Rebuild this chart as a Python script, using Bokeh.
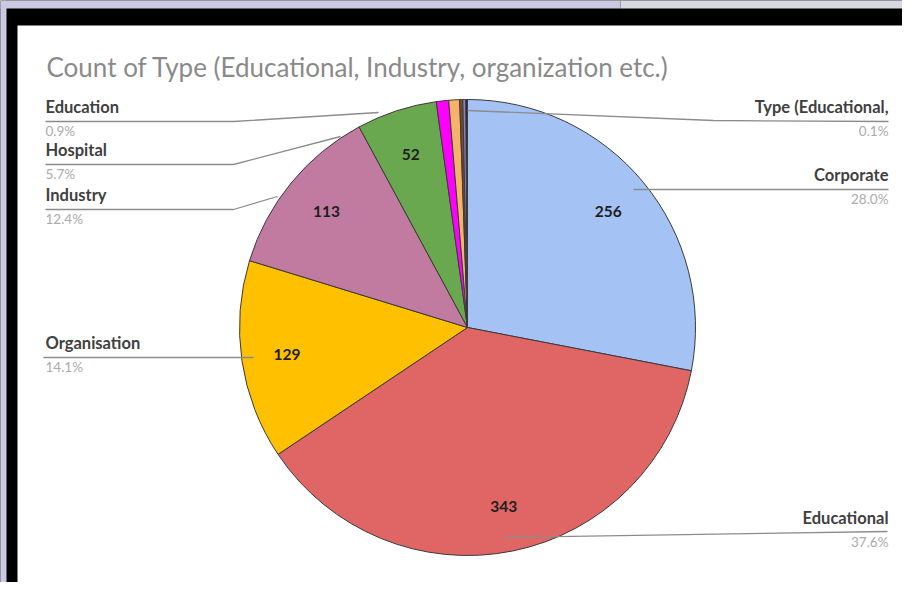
import numpy as np
from bokeh.plotting import figure
from bokeh.models import Range1d, ColumnDataSource
from bokeh.embed import file_html
from bokeh.resources import INLINE
from bokeh.core.properties import value

# ---------------- data ----------------
categories = ["Corporate", "Educational", "Organisation", "Industry", "Hospital",
              "Education", "(unlabelled 1)", "(unlabelled 2)", "(unlabelled 3)",
              "Type (Educational,"]
counts = [256, 343, 129, 113, 52, 8, 7, 2, 2, 1]
colors = ["#a4c2f4", "#e06666", "#ffc000", "#c27ba0", "#6aa84f",
          "#ff00ff", "#f6b26b", "#7a4a22", "#8e7cc3", "#1a1a1a"]
title_text = "Count of Type (Educational, Industry, organization etc.)"

# ---------------- layout (picture pixels, y down) ----------------
W, H = 902, 582
def X(sx):
    return sx
def Y(sy):
    return H - sy

CX, CY, R = X(467), Y(327), 228

# callout layout: category -> (side, underline y, leader path)
callouts = {
    "Education":          ("left", 121, [(45, 121), (233, 121), (378, 112)]),
    "Hospital":           ("left", 164, [(45, 164), (233, 164), (340, 136)]),
    "Industry":           ("left", 209, [(45, 209), (233, 209), (277, 196)]),
    "Organisation":       ("left", 357, [(43, 357), (253, 357)]),
    "Type (Educational,": ("right", 121, [(888, 121), (713, 120), (467, 110)]),
    "Corporate":          ("right", 189, [(888, 189), (633, 189)]),
    "Educational":        ("right", 532, [(887, 531), (503, 537)]),
}

p = figure(width=W, height=H, x_range=Range1d(0, W), y_range=Range1d(0, H),
           output_backend="svg", toolbar_location=None, min_border=0,
           x_axis_type=None, y_axis_type=None)
p.grid.visible = False
p.outline_line_color = None
p.background_fill_color = "black"
p.border_fill_color = "black"

# screen backdrop strips around the dark frame
p.quad(left=[X(0), X(620), X(0)], right=[X(620), X(902), X(6)],
       bottom=[Y(8), Y(8), Y(582)], top=[Y(0), Y(0), Y(0)],
       fill_color=["#c9c9e4", "#d8d8e2", "#c9c9e4"], line_color=None)

# white chart card
p.quad(left=X(17), right=X(913), bottom=Y(582), top=Y(25),
       fill_color="white", line_color=None)

# ---------------- pie ----------------
total = float(sum(counts))
fr = np.array(counts) / total
cw_end = np.cumsum(fr) * 2 * np.pi
cw_start = cw_end - fr * 2 * np.pi
src = ColumnDataSource(dict(
    start=np.pi / 2 - cw_end,
    end=np.pi / 2 - cw_start,
    color=colors,
    cat=categories,
))
p.wedge(x=CX, y=CY, radius=R, start_angle="start", end_angle="end",
        direction="anticlock", fill_color="color", line_color="#3a3a3a",
        line_width=1, source=src)

# value labels inside large slices
mid = (cw_start + cw_end) / 2
vx, vy, vt = [], [], []
for c, m in zip(counts, mid):
    if c >= 50:
        vx.append(CX + 0.8 * R * np.sin(m))
        vy.append(CY + 0.8 * R * np.cos(m))
        vt.append(str(c))
p.text(x=vx, y=vy, text=vt, text_align="center", text_baseline="middle",
       text_font=value("Lato"), text_font_style="bold", text_font_size="15.5px",
       text_color="#1e1e1e")

# ---------------- callouts ----------------
xs, ys = [], []
nx, ny, nt, na = [], [], [], []
px_, py_, pt_, pa_ = [], [], [], []
for cat, c in zip(categories, counts):
    if cat not in callouts:
        continue
    side, uy, path = callouts[cat]
    xs.append([X(a) for a, b in path])
    ys.append([Y(b) for a, b in path])
    ax = X(45) if side == "left" else X(888)
    al = "left" if side == "left" else "right"
    nx.append(ax); ny.append(Y(uy - 15)); nt.append(cat); na.append(al)
    px_.append(ax); py_.append(Y(uy + 9)); pt_.append(f"{100 * c / total:.1f}%"); pa_.append(al)

p.multi_line(xs=xs, ys=ys, line_color="#8c8c8c", line_width=1.3)
p.text(x=nx, y=ny, text=nt, text_align=na, text_baseline="middle",
       text_font=value("Lato"), text_font_style="bold", text_font_size="16.5px",
       text_color="#404040")
p.text(x=px_, y=py_, text=pt_, text_align=pa_, text_baseline="middle",
       text_font=value("Lato"), text_font_size="13.5px", text_color="#ababab")

# title
p.text(x=[X(46)], y=[Y(66)], text=[title_text], text_align="left",
       text_baseline="middle", text_font=value("Lato"),
       text_font_size="26px", text_color="#8a8a8a")

open("out.html", "w").write(file_html(p, INLINE))
